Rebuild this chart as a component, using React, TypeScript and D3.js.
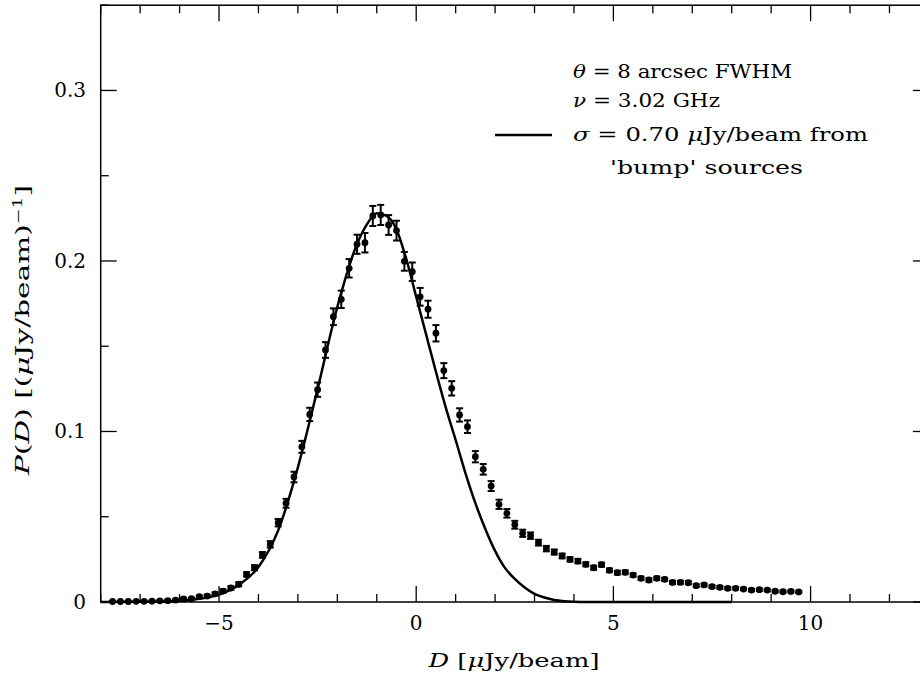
import React from "react";
import * as d3 from "d3";

// ---- data ----
const D_VALUES = [
  -7.7, -7.5, -7.3, -7.1, -6.9, -6.7, -6.5, -6.3, -6.1, -5.9, -5.7, -5.5, -5.3, -5.1, -4.9, -4.7, -4.5,
  -4.3, -4.1, -3.9, -3.7, -3.5, -3.3, -3.1, -2.9, -2.7, -2.5, -2.3, -2.1, -1.9, -1.7, -1.5, -1.3, -1.1,
  -0.9, -0.7, -0.5, -0.3, -0.1, 0.1, 0.3, 0.5, 0.7, 0.9, 1.1, 1.3, 1.5, 1.7, 1.9, 2.1, 2.3, 2.5, 2.7,
  2.9, 3.1, 3.3, 3.5, 3.7, 3.9, 4.1, 4.3, 4.5, 4.7, 4.9, 5.1, 5.3, 5.5, 5.7, 5.9, 6.1, 6.3, 6.5, 6.7,
  6.9, 7.1, 7.3, 7.5, 7.7, 7.9, 8.1, 8.3, 8.5, 8.7, 8.9, 9.1, 9.3, 9.5, 9.7,
];
const P_VALUES = [
  0.0003, 0.0003, 0.0003, 0.0004, 0.0004, 0.0005, 0.0007, 0.0008, 0.0011, 0.0018, 0.0019, 0.0031, 0.0035,
  0.0048, 0.0064, 0.0082, 0.0104, 0.0162, 0.0201, 0.0276, 0.0338, 0.0465, 0.0579, 0.0733, 0.091, 0.11,
  0.1245, 0.1478, 0.1673, 0.1775, 0.1957, 0.2098, 0.2107, 0.2264, 0.227, 0.2211, 0.2178, 0.1998, 0.1937,
  0.179, 0.1717, 0.1576, 0.1357, 0.1253, 0.1097, 0.1028, 0.0852, 0.0778, 0.068, 0.0573, 0.052, 0.0453,
  0.0403, 0.0389, 0.0348, 0.0313, 0.0293, 0.027, 0.025, 0.024, 0.0221, 0.0201, 0.0219, 0.0186, 0.0172,
  0.0174, 0.0158, 0.0139, 0.0129, 0.0139, 0.0133, 0.0115, 0.0115, 0.0113, 0.0096, 0.01, 0.009, 0.0086,
  0.008, 0.008, 0.0076, 0.007, 0.0072, 0.007, 0.0063, 0.006, 0.0062, 0.0059,
];
const P_ERRORS = [
  0.0003, 0.0003, 0.0003, 0.0003, 0.0003, 0.0004, 0.0004, 0.0005, 0.0005, 0.0006, 0.0006, 0.0007, 0.0008,
  0.0009, 0.001, 0.0011, 0.0012, 0.0013, 0.0015, 0.0017, 0.0019, 0.0022, 0.0026, 0.0031, 0.0035, 0.0039,
  0.0042, 0.0046, 0.0049, 0.0051, 0.0054, 0.0056, 0.0057, 0.0059, 0.0059, 0.0058, 0.0058, 0.0055, 0.0054,
  0.0052, 0.005, 0.0048, 0.0044, 0.0042, 0.0039, 0.0037, 0.0033, 0.0031, 0.0029, 0.0027, 0.0025, 0.0023,
  0.0021, 0.0019, 0.0017, 0.0016, 0.0015, 0.0014, 0.0013, 0.0013, 0.0012, 0.0012, 0.0012, 0.0011, 0.0011,
  0.0011, 0.001, 0.001, 0.001, 0.001, 0.0009, 0.0009, 0.0009, 0.0009, 0.0008, 0.0008, 0.0008, 0.0008,
  0.0008, 0.0007, 0.0007, 0.0007, 0.0007, 0.0007, 0.0007, 0.0006, 0.0006, 0.0006,
];
const MODEL_D = [
  -8, -7, -6.5, -6, -5.5, -5, -4.5, -4, -3.5, -3, -2.5, -2, -1.5, -1.25, -1, -0.75, -0.5, -0.25, 0, 0.25,
  0.5, 0.75, 1, 1.25, 1.5, 1.75, 2, 2.25, 2.5, 2.75, 3, 3.25, 3.5, 3.75, 4, 4.5, 5, 6, 7, 8,
];
const MODEL_P = [
  0, 0.0001, 0.0003, 0.0008, 0.0019, 0.0043, 0.01, 0.0205, 0.042, 0.079, 0.125, 0.173, 0.21, 0.2215, 0.228,
  0.2265, 0.2185, 0.201, 0.179, 0.157, 0.135, 0.114, 0.095, 0.0755, 0.058, 0.043, 0.03, 0.02, 0.0135,
  0.0085, 0.0048, 0.0026, 0.0012, 0.0005, 0.0002, 0.00005, 0, 0, 0, 0,
];
const X_TICK_LABELS = [-5, 0, 5, 10];
const Y_TICK_LABELS = [0, 0.1, 0.2, 0.3];

const W = 920;
const H = 677;
const FONT = "'DejaVu Serif', serif";

export default function App() {
  const x = d3.scaleLinear().domain([-8, 13]).range([100.7, 928.9]);
  const y = d3.scaleLinear().domain([0, 0.35]).range([602, 5.2]);
  const x0 = x(-8), x1 = x(13), y0 = y(0), y1 = y(0.35);

  const xMinor = d3.range(-8, 14, 1);
  const yMinor = d3.range(0, 0.351, 0.05);

  const line = d3
    .line<number>()
    .x((_, i) => x(MODEL_D[i]))
    .y((d) => y(d))
    .curve(d3.curveMonotoneX);

  const fmtY = (v: number) => (v === 0 ? "0" : d3.format(".1f")(v));
  const fmtX = (v: number) => (v < 0 ? "\u2212" + Math.abs(v) : String(v));

  return (
    <svg
      width={W}
      height={H}
      style={{ position: "absolute", left: 0, top: 0, background: "#fff" }}
      fontFamily={FONT}
    >
      <rect x={0} y={0} width={W} height={H} fill="#fff" />
      {/* frame */}
      <rect x={x0} y={y1} width={x1 - x0} height={y0 - y1} fill="none" stroke="#000" strokeWidth={1.5} />
      {/* x ticks bottom & top */}
      {xMinor.map((t) => {
        const major = t % 5 === 0;
        const len = major ? 16 : 8;
        return (
          <g key={"xt" + t}>
            <line x1={x(t)} x2={x(t)} y1={y0} y2={y0 - len} stroke="#000" strokeWidth={1.3} />
            <line x1={x(t)} x2={x(t)} y1={y1} y2={y1 + len} stroke="#000" strokeWidth={1.3} />
          </g>
        );
      })}
      {/* y ticks left & right */}
      {yMinor.map((t, i) => {
        const major = i % 2 === 0;
        const len = major ? 16 : 8;
        return (
          <g key={"yt" + i}>
            <line x1={x0} x2={x0 + len} y1={y(t)} y2={y(t)} stroke="#000" strokeWidth={1.3} />
            <line x1={x1} x2={x1 - len} y1={y(t)} y2={y(t)} stroke="#000" strokeWidth={1.3} />
          </g>
        );
      })}
      {/* tick labels */}
      {X_TICK_LABELS.map((t) => (
        <text key={"xl" + t} x={x(t)} y={630} fontSize={20} textAnchor="middle">
          {fmtX(t)}
        </text>
      ))}
      {Y_TICK_LABELS.map((t) => (
        <text key={"yl" + t} x={86} y={y(t) + 7} fontSize={20} textAnchor="end">
          {fmtY(t)}
        </text>
      ))}
      {/* axis titles */}
      <text x={514} y={667} fontSize={19} textAnchor="middle" textLength={171} lengthAdjust="spacingAndGlyphs">
        <tspan fontStyle="italic">D</tspan> [<tspan fontStyle="italic">μ</tspan>Jy/beam]
      </text>
      <text
        transform={`translate(29, 330) rotate(-90)`}
        fontSize={19}
        textAnchor="middle"
        textLength={290}
        lengthAdjust="spacingAndGlyphs"
      >
        <tspan fontStyle="italic">P</tspan>(<tspan fontStyle="italic">D</tspan>) [(<tspan fontStyle="italic">μ</tspan>Jy/beam)
        <tspan dy={-7} fontSize={12}>−1</tspan>
        <tspan dy={7}>]</tspan>
      </text>

      {/* model curve */}
      <path d={line(MODEL_P) || ""} fill="none" stroke="#000" strokeWidth={2.5} strokeLinejoin="round" />

      {/* data with error bars */}
      {D_VALUES.map((d, i) => {
        const cx = x(d);
        const cy = y(P_VALUES[i]);
        const yt = y(P_VALUES[i] + P_ERRORS[i]);
        const yb = y(P_VALUES[i] - P_ERRORS[i]);
        return (
          <g key={"pt" + i}>
            <line x1={cx} x2={cx} y1={yt} y2={yb} stroke="#000" strokeWidth={2} />
            <line x1={cx - 3.5} x2={cx + 3.5} y1={yt} y2={yt} stroke="#000" strokeWidth={2} />
            <line x1={cx - 3.5} x2={cx + 3.5} y1={yb} y2={yb} stroke="#000" strokeWidth={2} />
            <circle cx={cx} cy={cy} r={3.4} fill="#000" />
          </g>
        );
      })}

      {/* legend */}
      <text x={573} y={78} fontSize={19} textLength={219} lengthAdjust="spacingAndGlyphs">
        <tspan fontStyle="italic">θ</tspan> = 8 arcsec FWHM
      </text>
      <text x={573} y={107} fontSize={19} textLength={147} lengthAdjust="spacingAndGlyphs">
        <tspan fontStyle="italic">ν</tspan> = 3.02 GHz
      </text>
      <line x1={495} x2={552} y1={135} y2={135} stroke="#000" strokeWidth={2.5} />
      <text x={573} y={141} fontSize={19} textLength={295} lengthAdjust="spacingAndGlyphs">
        <tspan fontStyle="italic">σ</tspan> = 0.70 <tspan fontStyle="italic">μ</tspan>Jy/beam from
      </text>
      <text x={610} y={174} fontSize={19} textLength={193} lengthAdjust="spacingAndGlyphs">
        'bump' sources
      </text>
    </svg>
  );
}
